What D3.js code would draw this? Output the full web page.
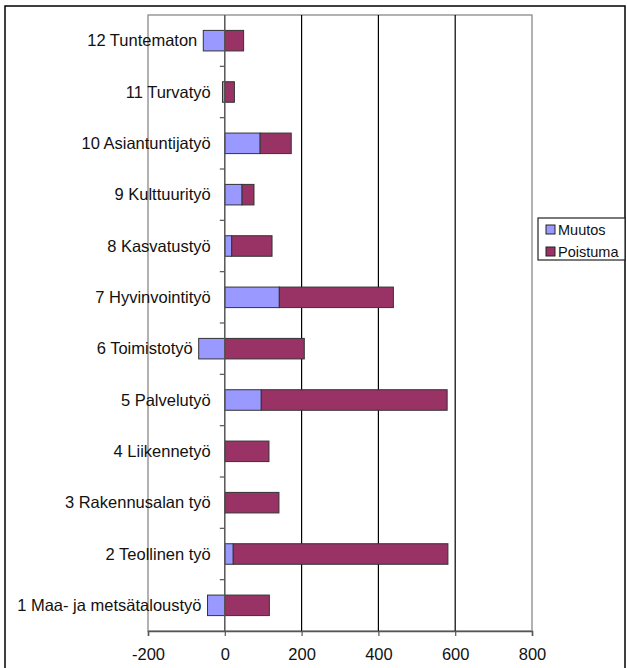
<!DOCTYPE html>
<html>
<head>
<meta charset="utf-8">
<script src="https://cdn.jsdelivr.net/npm/d3@7"></script>
<style>
  html, body { margin: 0; padding: 0; background: #fff; }
  svg { display: block; font-family: "Liberation Sans", Arial, Helvetica, sans-serif; }
</style>
</head>
<body>
<svg id="chart" width="627" height="668"></svg>
<script>
// ---- data (top to bottom as drawn) ----
const categories = [
  "12 Tuntematon",
  "11 Turvatyö",
  "10 Asiantuntijatyö",
  "9 Kulttuurityö",
  "8 Kasvatustyö",
  "7 Hyvinvointityö",
  "6 Toimistotyö",
  "5 Palvelutyö",
  "4 Liikennetyö",
  "3 Rakennusalan työ",
  "2 Teollinen työ",
  "1 Maa- ja metsätaloustyö"
];
const muutos   = [-56, -6, 92, 45, 18, 142, -68, 95, 1, 1, 22, -45];
const poistuma = [49, 25, 81, 31, 105, 297, 207, 484, 114, 140, 559, 116];
const seriesNames = ["Muutos", "Poistuma"];
const seriesColors = ["#9999FF", "#993366"];
const xTicks = [-200, 0, 200, 400, 600, 800];

// ---- layout ----
const svg = d3.select("#chart");
const plot = { left: 148, right: 532, top: 15, bottom: 631 };

svg.append("rect")
  .attr("x", 5).attr("y", 6).attr("width", 620).attr("height", 700)
  .attr("fill", "#fff").attr("stroke", "#000").attr("stroke-width", 1.5);

const x = d3.scaleLinear().domain([-200, 800]).range([plot.left, plot.right]);
const y = d3.scaleBand().domain(categories).range([plot.top, plot.bottom])
  .paddingInner(0.6).paddingOuter(0.3);
const yb = d3.scaleBand().domain(categories).range([plot.top, plot.bottom]);

// plot area border
svg.append("rect")
  .attr("x", plot.left).attr("y", plot.top)
  .attr("width", plot.right - plot.left).attr("height", plot.bottom - plot.top)
  .attr("fill", "none").attr("stroke", "#999").attr("stroke-width", 1.5);

// gridlines
svg.append("g").selectAll("line")
  .data(xTicks.filter(t => t > -200 && t < 800 && t !== 0))
  .join("line")
  .attr("x1", d => x(d)).attr("x2", d => x(d))
  .attr("y1", plot.top).attr("y2", plot.bottom)
  .attr("stroke", "#000").attr("stroke-width", 1.2);

// x axis
const xAxis = d3.axisBottom(x).tickValues(xTicks).tickSize(5).tickPadding(12)
  .tickFormat(d => String(d));
const gx = svg.append("g").attr("transform", `translate(0,${plot.bottom})`).call(xAxis);
gx.select(".domain").attr("stroke", "#555").attr("stroke-width", 1.5);
gx.selectAll(".tick line").attr("stroke", "#555").attr("stroke-width", 1.2);
gx.selectAll(".tick text").attr("font-size", 16.5).attr("fill", "#111")
  .attr("font-family", "'Liberation Sans', Arial, sans-serif");

// bars
const rows = categories.map((c, i) => ({ c, m: muutos[i], p: poistuma[i] }));
const g = svg.append("g");
rows.forEach(r => {
  const mx0 = Math.min(0, r.m), mx1 = Math.max(0, r.m);
  const px0 = Math.max(0, r.m), px1 = px0 + r.p;
  g.append("rect")
    .attr("x", x(mx0)).attr("y", y(r.c))
    .attr("width", x(mx1) - x(mx0)).attr("height", y.bandwidth())
    .attr("fill", seriesColors[0]).attr("stroke", "#333").attr("stroke-width", 1);
  g.append("rect")
    .attr("x", x(px0)).attr("y", y(r.c))
    .attr("width", x(px1) - x(px0)).attr("height", y.bandwidth())
    .attr("fill", seriesColors[1]).attr("stroke", "#333").attr("stroke-width", 1);
});

// category axis at zero
svg.append("line")
  .attr("x1", x(0)).attr("x2", x(0)).attr("y1", plot.top).attr("y2", plot.bottom)
  .attr("stroke", "#555").attr("stroke-width", 1.5);
svg.append("g").selectAll("line")
  .data(categories.slice(1))
  .join("line")
  .attr("x1", x(0) - 5).attr("x2", x(0))
  .attr("y1", d => yb(d)).attr("y2", d => yb(d))
  .attr("stroke", "#555").attr("stroke-width", 1.2);

// category labels
svg.append("g").selectAll("text")
  .data(rows)
  .join("text")
  .attr("x", d => Math.min(x(0) - 14, x(Math.min(0, d.m)) - 6))
  .attr("y", d => yb(d.c) + yb.bandwidth() / 2)
  .attr("dy", "0.35em")
  .attr("text-anchor", "end")
  .attr("font-size", 16.5)
  .attr("fill", "#111")
  .text(d => d.c);

// legend
const lg = svg.append("g").attr("transform", "translate(538,218)");
lg.append("rect").attr("width", 87).attr("height", 42)
  .attr("fill", "#fff").attr("stroke", "#222").attr("stroke-width", 1.2);
seriesNames.forEach((s, i) => {
  lg.append("rect").attr("x", 8).attr("y", 7 + i * 22).attr("width", 9).attr("height", 9)
    .attr("fill", seriesColors[i]).attr("stroke", "#222").attr("stroke-width", 1);
  lg.append("text").attr("x", 20).attr("y", 11.5 + i * 22).attr("dy", "0.35em")
    .attr("font-size", 14.5).attr("fill", "#111").text(s);
});
</script>
</body>
</html>
